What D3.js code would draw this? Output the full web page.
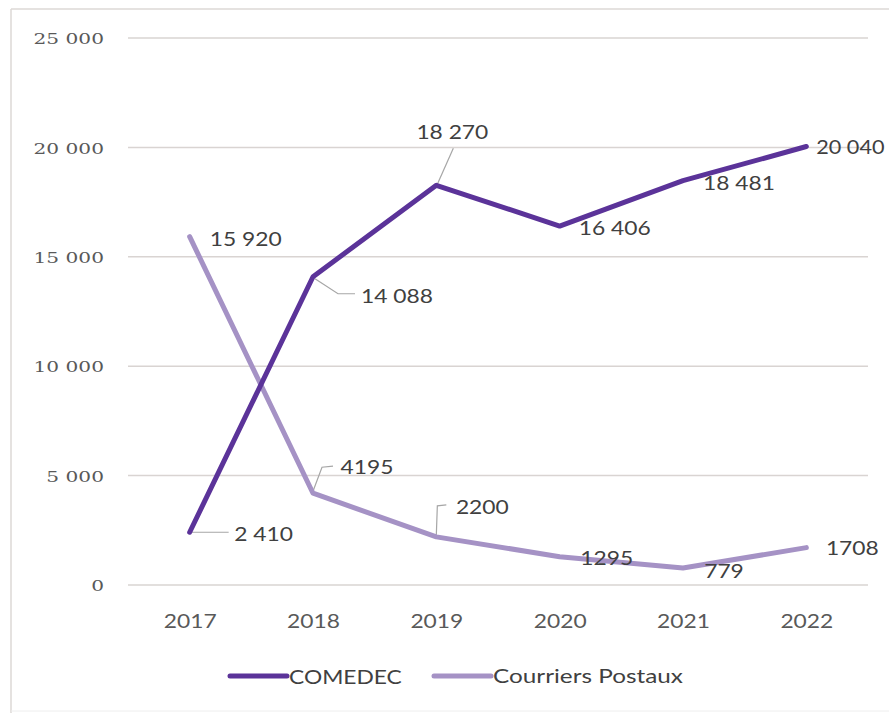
<!DOCTYPE html>
<html>
<head>
<meta charset="utf-8">
<script src="https://cdn.jsdelivr.net/npm/d3@7"></script>
<style>
html,body{margin:0;padding:0;background:#fff;}
svg{display:block;}
</style>
</head>
<body>
<script>
const years = ["2017","2018","2019","2020","2021","2022"];
const comedec = [2410, 14088, 18270, 16406, 18481, 20040];
const courriers = [15920, 4195, 2200, 1295, 779, 1708];
const comedecLabels = ["2 410","14 088","18 270","16 406","18 481","20 040"];
const courriersLabels = ["15 920","4195","2200","1295","779","1708"];
const yTicks = [0, 5000, 10000, 15000, 20000, 25000];
const yTickLabels = ["0","5 000","10 000","15 000","20 000","25 000"];
const seriesNames = ["COMEDEC","Courriers Postaux"];

const W = 889, H = 713;
const colors = ["#5b3399", "#a592c5"];
const svg = d3.select("body").append("svg").attr("width", W).attr("height", H);

// frame
svg.append("line").attr("x1",11).attr("x2",W).attr("y1",9).attr("y2",9).attr("stroke","#dcd8d6").attr("stroke-width",1.5);
svg.append("line").attr("x1",11).attr("x2",11).attr("y1",9).attr("y2",H).attr("stroke","#dcd8d6").attr("stroke-width",1.5);
svg.append("line").attr("x1",11).attr("x2",W).attr("y1",711).attr("y2",711).attr("stroke","#eeeeee").attr("stroke-width",1);

const plotL = 128, plotR = 868;
const x = d3.scalePoint().domain(years).range([plotL, plotR]).padding(0.5);
const y = d3.scaleLinear().domain([0, 25000]).range([585, 38]);

// gridlines
svg.append("g").selectAll("line").data(yTicks).join("line")
  .attr("x1", plotL).attr("x2", plotR)
  .attr("y1", d => y(d)).attr("y2", d => y(d))
  .attr("stroke", "#d9d4d2").attr("stroke-width", 1.5);

const SX = 1.2;
// y axis labels
const yAxis = d3.axisLeft(y).tickValues(yTicks).tickFormat((d,i) => yTickLabels[i]).tickSize(0).tickPadding(0);
const gy = svg.append("g").attr("transform", "translate(104,0)").call(yAxis);
gy.select(".domain").remove();
gy.selectAll("text")
  .attr("x", null).attr("dy", null)
  .attr("font-family","'DejaVu Serif', 'Liberation Serif', serif")
  .attr("font-size", 15.5).attr("fill", "#595959")
  .attr("dominant-baseline","central")
  .attr("transform", "scale(1.3,1)");

// x axis labels
const xAxis = d3.axisBottom(x).tickSize(0).tickPadding(0);
const gx = svg.append("g").attr("transform", "translate(0,620)").call(xAxis);
gx.select(".domain").remove();
gx.selectAll("text").attr("y", null).attr("dy", null)
  .attr("dominant-baseline","central")
  .attr("font-family","Lato, 'Open Sans', sans-serif")
  .attr("font-size", 19).attr("fill", "#595959")
  .attr("transform", `scale(${SX},1)`);

const line = d3.line().x((d,i) => x(years[i])).y(d => y(d));

// leader lines (relative offsets from data point)
const leader = [
  [0, 0, [[2,0],[39,0]]],
  [0, 1, [[2,2],[25,17],[42,17]]],
  [0, 2, [[1,-1],[17,-37]]],
  [1, 1, [[0,-2],[9,-26],[20,-27]]],
  [1, 2, [[0,-2],[1,-31],[10,-32]]]
];
const seriesVals = [comedec, courriers];
svg.append("g").selectAll("path").data(leader).join("path")
  .attr("d", d => {
    const px = x(years[d[1]]), py = y(seriesVals[d[0]][d[1]]);
    return d3.line()(d[2].map(p => [px + p[0], py + p[1]]));
  })
  .attr("fill","none").attr("stroke","#a6a6a6").attr("stroke-width",1.2);

// lines: comedec drawn on top
[[courriers,1],[comedec,0]].forEach(([vals, ci]) => {
  svg.append("path").datum(vals).attr("d", line)
    .attr("fill","none").attr("stroke", colors[ci]).attr("stroke-width", 5)
    .attr("stroke-linejoin","round").attr("stroke-linecap","round");
});

// data labels: offsets
const comedecOff = [[74,1],[84,19],[16,-54],[55,1],[56,2],[44,0]];
const courriersOff = [[56,2],[54,-27],[46,-31],[47,1],[41,2],[46,0]];
const lblFont = "Lato, 'Open Sans', sans-serif";
function drawLabels(vals, labels, offs, last) {
  svg.append("g").selectAll("text").data(vals).join("text")
    .attr("transform", (d,i) => `translate(${x(years[i]) + offs[i][0]},${y(d) + offs[i][1]}) scale(${i === 5 && last ? 1.14 : SX},1)`)
    .attr("dominant-baseline","central").attr("text-anchor","middle")
    .attr("font-family", lblFont).attr("font-size", 19).attr("fill","#404040")
    .text((d,i) => labels[i]);
}
drawLabels(comedec, comedecLabels, comedecOff, true);
drawLabels(courriers, courriersLabels, courriersOff, false);

// legend
const legX = [230, 434];
const lg = svg.append("g").selectAll("g").data(seriesNames).join("g")
  .attr("transform", (d,i) => `translate(${legX[i]},676)`);
lg.append("line").attr("x1",0).attr("x2",57).attr("y1",0).attr("y2",0)
  .attr("stroke",(d,i)=>colors[i]).attr("stroke-width",5).attr("stroke-linecap","round");
lg.append("text").attr("transform", (d,i) => `translate(59,0) scale(${i ? 1.28 : SX},1)`)
  .attr("dominant-baseline","central")
  .attr("font-family", lblFont).attr("font-size", 19).attr("fill","#404040")
  .text(d => d);
</script>
</body>
</html>
